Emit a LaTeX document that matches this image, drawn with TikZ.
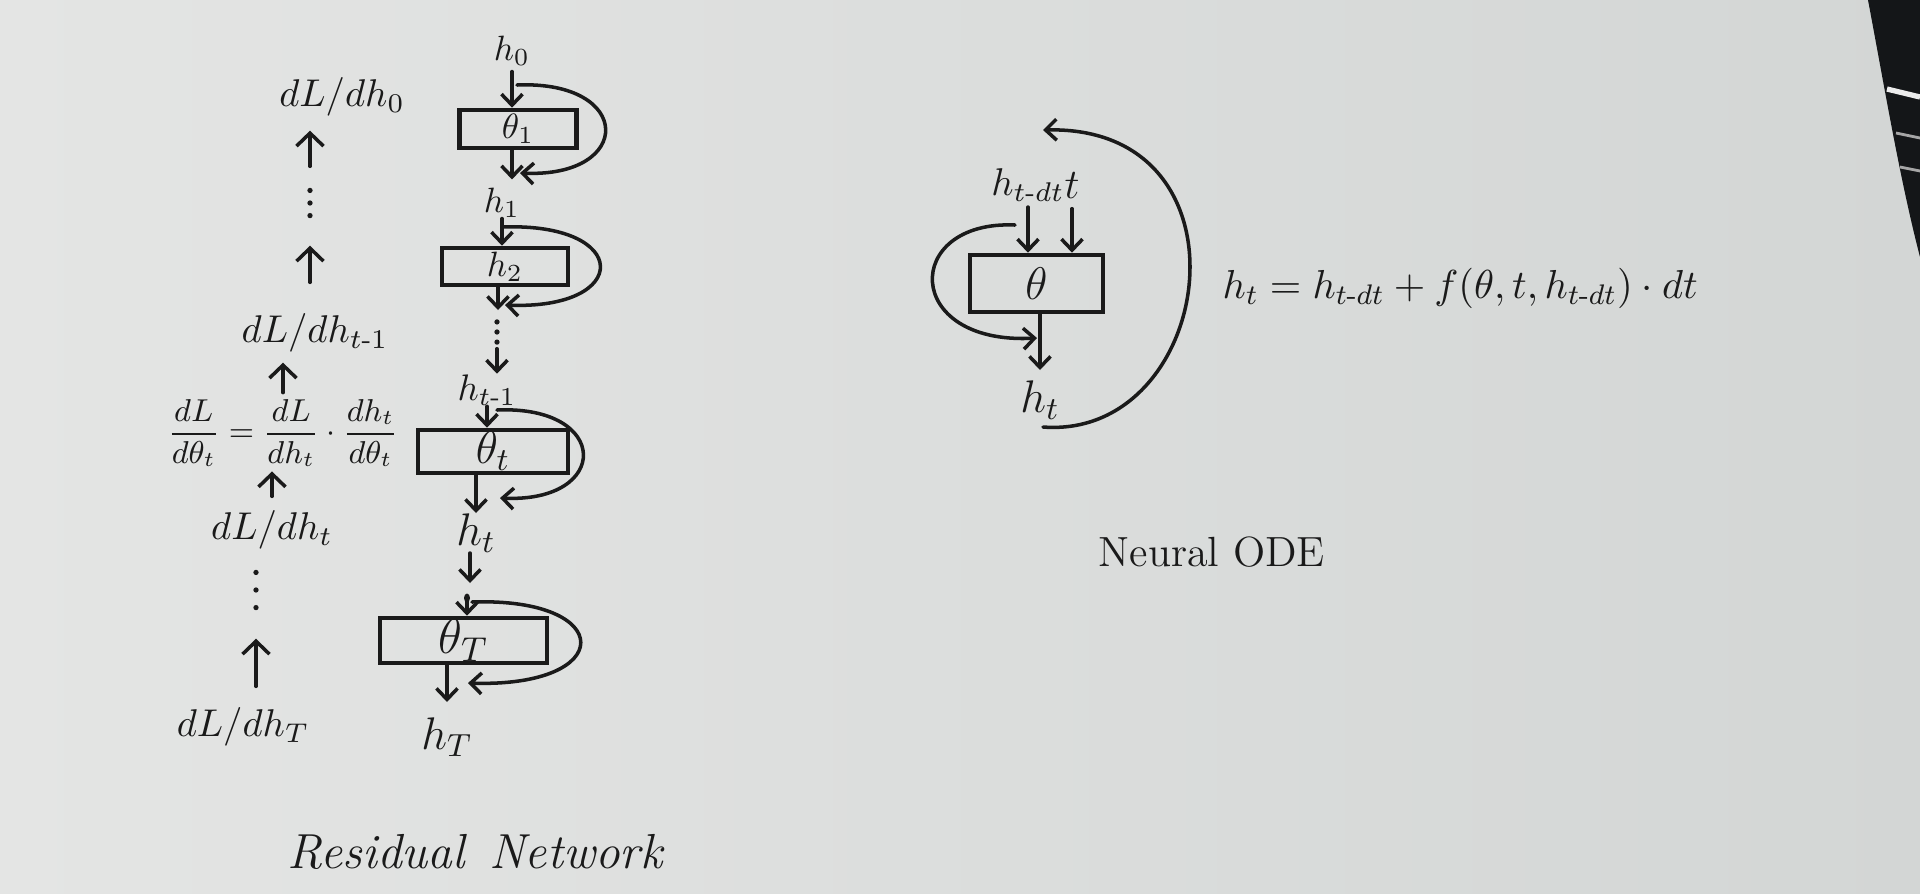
\RequirePackage{fix-cm}
\documentclass[tikz,border=0pt]{standalone}
\usepackage{amsmath}
\usetikzlibrary{arrows.meta}
\definecolor{paperL}{RGB}{228,229,228}
\definecolor{paperR}{RGB}{211,214,213}
\definecolor{ink}{RGB}{26,26,26}
\definecolor{bgdark}{RGB}{20,22,24}
\begin{document}
\begin{tikzpicture}[x=0.01cm,y=-0.01cm,
  pen/.style={draw=ink,line width=1pt,line cap=round,line join=round},
  arr/.style={pen,-{Straight Barb[length=1.1mm,width=2.1mm,line width=1pt]}},
  uparr/.style={pen,-{Straight Barb[length=1.3mm,width=2.7mm,line width=1pt]}},
  blk/.style={draw=ink,line width=1.3pt,inner sep=0pt},
  lab/.style={text=ink,inner sep=0pt,font=\fontsize{#1}{#1}\selectfont},
  dotsv/.style={minimum width=5pt,minimum height=#1,inner sep=0pt,
    path picture={\fill[ink] ([yshift=-1.4pt]path picture bounding box.north) circle (0.75pt)
      (path picture bounding box.center) circle (0.75pt)
      ([yshift=1.4pt]path picture bounding box.south) circle (0.75pt);}},
]
\useasboundingbox (0,0) rectangle (1920,893);
% paper
\shade[left color=paperL,right color=paperR] (0,0) rectangle (1920,893);
\fill[bgdark] (1868,0) -- (1920,0) -- (1920,257) .. controls (1900,180) and (1885,90) .. cycle;
\draw[white!85!gray,line width=1.5pt] (1887,89) -- (1920,97);
\draw[gray!70,line width=0.8pt] (1896,133) -- (1920,138);
\draw[gray!70,line width=0.8pt] (1900,167) -- (1920,171);

% ---------------- Residual network chain ----------------
\node[lab=10] (h0) at (512,51) {$h_0$};
\node[blk,lab=10,minimum width=1.17cm,minimum height=0.38cm] (b1) at (518,129) {$\theta_1$};
\node[lab=10] (h1) at (502,203) {$h_1$};
\node[blk,lab=10,minimum width=1.26cm,minimum height=0.37cm] (b2) at (505,266.5) {$h_2$};
\node[dotsv=0.3cm] (vd1) at (497,332) {};
\node[lab=10.5] (htm1) at (487,390) {$h_{t\text{-}1}$};
\node[blk,lab=13,minimum width=1.5cm,minimum height=0.43cm] (bt) at (493,451.5) {$\theta_t$};
\node[lab=13] (htr) at (476,533) {$h_t$};
\node[blk,lab=14,minimum width=1.67cm,minimum height=0.45cm] (bT) at (463.5,640.5) {$\theta_T$};
\node[lab=13] (hT) at (447,737) {$h_T$};

\draw[arr,shorten <=0.05cm] (h0.south) -- (h0.south |- b1.north);
\draw[arr,shorten >=0.08cm] (b1.south -| h0) -- (h0 |- h1.north);
\draw[arr] (h1.south) -- (h1.south |- b2.north);
\coordinate (c2) at (498,310);
\draw[arr] (b2.south -| c2) -- (c2);
\draw[arr,shorten <=0.01cm] (vd1.south) -- (vd1.south |- htm1.north);
\draw[arr] (htm1.south) -- (htm1.south |- bt.north);
\draw[arr] (bt.south -| htr.north) -- (htr.north);
\coordinate (m1) at (470,583);
\coordinate (m2) at (467,598);
\draw[arr] (htr.south -| m1) -- (m1);
\fill[ink] (m2) ellipse [x radius=3,y radius=4.5];
\draw[arr] (m2) -- (m2 |- bT.north);
\draw[arr,shorten >=0.15cm] (bT.south -| hT.north) -- (hT.north);

% residual loops
\coordinate (s1) at (517,85);  \coordinate (e1) at (520,173);
\draw[arr] (s1) .. controls (634,80) and (634,178) .. (e1);
\coordinate (s2) at (502,227); \coordinate (e2) at (505,305);
\draw[arr] (s2) .. controls (632,222) and (632,310) .. (e2);
\coordinate (s3) at (497,410); \coordinate (e3) at (500,498);
\draw[arr] (s3) .. controls (611,405) and (611,503) .. (e3);
\coordinate (s4) at (472,602); \coordinate (e4) at (468,683);
\draw[arr] (s4) .. controls (617,597) and (617,688) .. (e4);

% ---------------- gradient column ----------------
\node[lab=11] (L0) at (342,97) {$dL/dh_0$};
\node[dotsv=0.35cm] (vdL1) at (310,203) {};
\node[lab=11] (Lt1) at (315,333) {$dL/dh_{t\text{-}1}$};
\node[lab=9] (F) at (283,433) {$\displaystyle\frac{dL}{d\theta_t}=\frac{dL}{dh_t}\cdot\frac{dh_t}{d\theta_t}$};
\node[lab=11] (Lt) at (272,530) {$dL/dh_t$};
\node[dotsv=0.45cm] (vdL2) at (256,590) {};
\node[lab=11] (LT) at (243,727) {$dL/dh_T$};

\draw[uparr,shorten <=0.185cm,shorten >=0.136cm] (vdL1.north) -- (vdL1.north |- L0.south);
\draw[uparr,shorten <=0.306cm,shorten >=0.245cm] (Lt1.north -| vdL1) -- (vdL1.south);
\draw[uparr,shorten <=0.06cm,shorten >=0.096cm] (F.north) -- (F.north |- Lt1.south);
\draw[uparr,shorten <=0.136cm,shorten >=0.04cm] (Lt.north) -- (Lt.north |- F.south);
\draw[uparr,shorten <=0.206cm,shorten >=0.255cm] (LT.north -| vdL2) -- (vdL2.south);

\node[lab=14] (tR) at (475,852) {\itshape Residual\hspace{0.5em}Network};

% ---------------- Neural ODE ----------------
\node[blk,lab=13,minimum width=1.33cm,minimum height=0.57cm] (bth) at (1036.5,283.5) {$\theta$};
\node[lab=11] (hdt) at (1028,185) {$h_{t\text{-}dt}$};
\node[lab=12] (tt) at (1072,186) {$t$};
\node[lab=13] (ht2) at (1040,400) {$h_t$};

\draw[arr,shorten <=0.05cm] (hdt.south) -- (hdt.south |- bth.north);
\draw[arr,shorten <=0.09cm] (tt.south) -- (tt.south |- bth.north);
\draw[arr,shorten >=0.1cm] (bth.south -| ht2) -- (ht2.north);

\coordinate (ls) at (1015,225); \coordinate (le) at (1037,338);
\draw[arr] (ls) .. controls (902,220) and (902,345) .. (le);
\coordinate (bs) at (1043,427); \coordinate (be) at (1043,130);
\draw[arr] (bs) .. controls (1215,440) and (1260,125) .. (be);

\node[lab=11.5,anchor=west] (eq) at (1222,288) {$h_t = h_{t\text{-}dt} + f(\theta, t, h_{t\text{-}dt})\cdot dt$};

\node[lab=12] (tN) at (1212,552) {Neural ODE};
\end{tikzpicture}
\end{document}
